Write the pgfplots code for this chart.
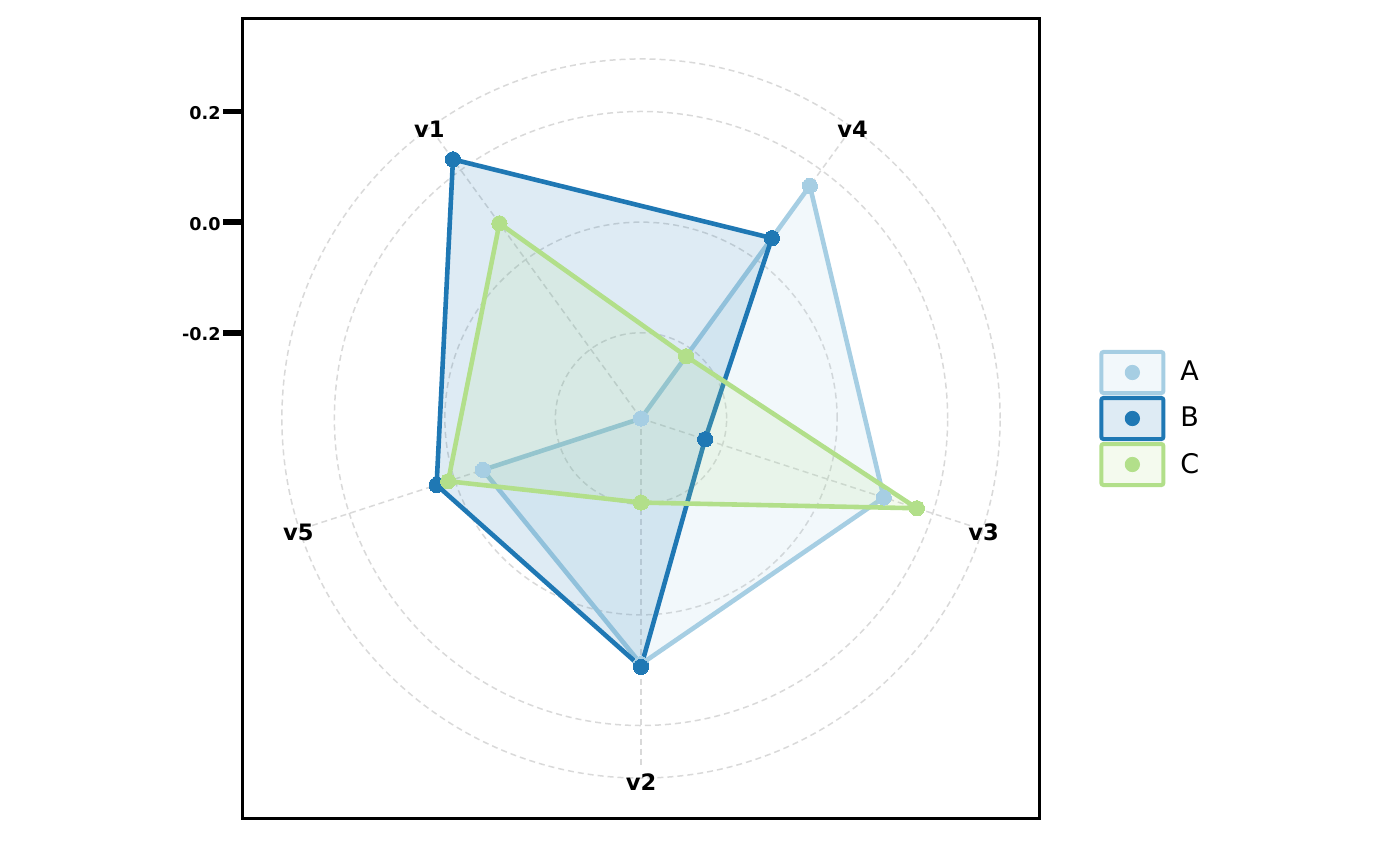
\documentclass[border=0pt]{standalone}
\usepackage{pgfplots}
\pgfplotsset{compat=1.18}
\usepackage{pgfplotstable}
\usepackage{fontspec}
\setmainfont{DejaVu Sans}
\definecolor{Acol}{HTML}{A6CEE3}
\definecolor{Bcol}{HTML}{1F78B4}
\definecolor{Ccol}{HTML}{B2DF8A}
\definecolor{gridc}{HTML}{D9D9D9}

% angle (deg), value; order v1, v4, v3, v2, v5, v1
\pgfplotstableread{
ang v
126 -0.355
54 0.165
-18 0.107
-90 0.089
198 -0.054
126 -0.355
}\dataA
\pgfplotstableread{
ang v
126 0.224
54 0.048
-18 -0.233
-90 0.094
198 0.034
126 0.224
}\dataB
\pgfplotstableread{
ang v
126 0.081
54 -0.216
-18 0.170
-90 -0.203
198 0.012
126 0.081
}\dataC
\newcommand{\off}{0.355}

\pgfplotsset{
  /pgfplots/table/polyxy/.style={x expr={(\thisrow{v}+\off)*cos(\thisrow{ang})}, y expr={(\thisrow{v}+\off)*sin(\thisrow{ang})}},
}
\tikzset{gridln/.style={draw=gridc, line width=0.75pt, dash pattern=on 3pt off 2pt},
  vlab/.style={font=\bfseries\fontsize{11.3}{13}\selectfont, yshift=-1.3pt}}

\begin{document}
\begin{tikzpicture}
\path[use as bounding box] (0,0) rectangle (700pt,433pt);
\begin{axis}[
  at={(121pt,24pt)}, anchor=south west,
  width=399pt, height=399.5pt, scale only axis,
  xmin=-0.7222, xmax=0.7222, ymin=-0.7222, ymax=0.7222,
  clip=false,
  axis line style={line width=1.5pt},
  xtick=\empty,
  ytick={0.155,0.355,0.555},
  yticklabels={-0.2,0.0,0.2},
  ytick pos=left,
  tick align=outside,
  major tick length=9.5pt,
  ytick style={line width=2.8pt, black},
  yticklabel style={font=\bfseries\fontsize{8.8}{10}\selectfont, inner sep=1pt, yshift=-0.8pt},
  legend style={at={(1,0.5)}, anchor=west, xshift=26.5pt, draw=none, fill=none,
    font=\fontsize{13.5}{15}\selectfont, row sep=0.5pt,
    /tikz/every odd column/.append style={column sep=5.5pt}},
  legend cell align=left,
]
% grid
\draw[gridln] (axis cs:0,0) circle [radius=0.155];
\draw[gridln] (axis cs:0,0) circle [radius=0.355];
\draw[gridln] (axis cs:0,0) circle [radius=0.555];
\draw[gridln] (axis cs:0,0) circle [radius=0.650];
\pgfplotsinvokeforeach{126,54,-18,-90,198}{
  \draw[gridln] (axis cs:0,0) -- (axis cs:{0.63*cos(#1)},{0.63*sin(#1)});
}
% polygons
\addplot[draw=Acol, line width=2.3pt, fill=Acol, fill opacity=0.15, line join=round, forget plot] table[polyxy] {\dataA};
\addplot[draw=Bcol, line width=2.3pt, fill=Bcol, fill opacity=0.15, line join=round, forget plot] table[polyxy] {\dataB};
\addplot[draw=Ccol, line width=2.3pt, fill=Ccol, fill opacity=0.15, line join=round, forget plot] table[polyxy] {\dataC};
% points
\addplot[Acol, only marks, mark=*, mark size=3.8pt, mark options={draw=Acol, fill=Acol, line width=0pt}, forget plot] table[polyxy] {\dataA};
\addplot[Bcol, only marks, mark=*, mark size=3.8pt, mark options={draw=Bcol, fill=Bcol, line width=0pt}, forget plot] table[polyxy] {\dataB};
\addplot[Ccol, only marks, mark=*, mark size=3.8pt, mark options={draw=Ccol, fill=Ccol, line width=0pt}, forget plot] table[polyxy] {\dataC};
% axis labels
\node[vlab] at (axis cs:{0.652*cos(126)},{0.652*sin(126)}) {v1};
\node[vlab] at (axis cs:{0.652*cos(54)},{0.652*sin(54)}) {v4};
\node[vlab] at (axis cs:{0.652*cos(-18)},{0.652*sin(-18)}) {v3};
\node[vlab] at (axis cs:{0.652*cos(-90)},{0.652*sin(-90)}) {v2};
\node[vlab] at (axis cs:{0.652*cos(198)},{0.652*sin(198)}) {v5};
% legend
\addlegendimage{legend image code/.code={
  \draw[draw=Acol, line width=2pt, fill=Acol, fill opacity=0.15, rounded corners=1pt] (0pt,-10.25pt) rectangle (31pt,10.25pt);
  \fill[Acol] (15.5pt,0pt) circle (3.6pt);}}
\addlegendentry{A}
\addlegendimage{legend image code/.code={
  \draw[draw=Bcol, line width=2pt, fill=Bcol, fill opacity=0.15, rounded corners=1pt] (0pt,-10.25pt) rectangle (31pt,10.25pt);
  \fill[Bcol] (15.5pt,0pt) circle (3.6pt);}}
\addlegendentry{B}
\addlegendimage{legend image code/.code={
  \draw[draw=Ccol, line width=2pt, fill=Ccol, fill opacity=0.15, rounded corners=1pt] (0pt,-10.25pt) rectangle (31pt,10.25pt);
  \fill[Ccol] (15.5pt,0pt) circle (3.6pt);}}
\addlegendentry{C}
\end{axis}
\end{tikzpicture}
\end{document}
